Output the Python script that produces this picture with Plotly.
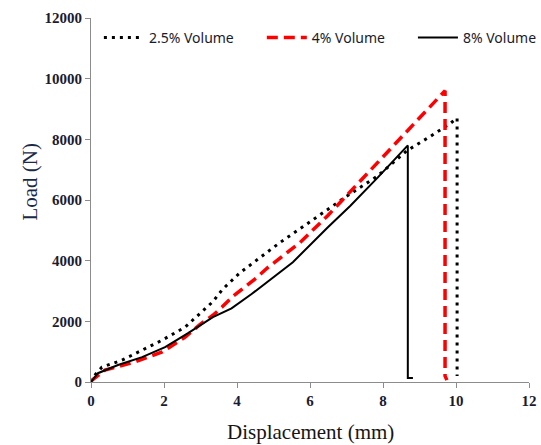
import plotly.graph_objects as go

# 2.5% Volume (dotted black)
x_25 = [0, 0.03, 0.3, 0.85, 1.4, 1.95, 2.58, 3.04, 3.34, 3.6, 4.08, 4.63, 5.18, 5.64, 6.19, 6.49, 7.0, 7.84, 8.66, 9.3, 9.84, 10.0, 10.03, 10.03]
y_25 = [0, 130, 490, 720, 1050, 1380, 1810, 2300, 2650, 3050, 3600, 4100, 4600, 4980, 5450, 5690, 6120, 6780, 7630, 8100, 8520, 8680, 8700, 200]

# 4% Volume (dashed red)
x_4 = [0, 0.03, 0.38, 1.2, 1.95, 2.58, 2.99, 3.34, 3.59, 3.89, 4.55, 4.82, 5.73, 6.49, 7.2, 8.0, 8.8, 9.7, 9.7, 9.75]
y_4 = [0, 60, 390, 660, 990, 1480, 1900, 2200, 2470, 2830, 3450, 3750, 4600, 5490, 6400, 7430, 8450, 9600, 200, 60]

# 8% Volume (solid black)
x_8 = [0, 0.19, 0.74, 1.4, 2.03, 2.66, 3.34, 3.85, 4.4, 4.82, 5.53, 6.49, 7.1, 7.84, 8.68, 8.68, 8.82]
y_8 = [0, 290, 560, 820, 1150, 1610, 2140, 2430, 2900, 3290, 3950, 5100, 5800, 6720, 7800, 130, 130]

x_ticks = [0, 2, 4, 6, 8, 10, 12]
y_ticks = [0, 2000, 4000, 6000, 8000, 10000, 12000]

fig = go.Figure()
fig.add_trace(go.Scatter(x=x_25, y=y_25, mode="lines", name="2.5% Volume", legend="legend",
                         line=dict(color="black", width=3, dash="3px,5px")))
fig.add_trace(go.Scatter(x=x_4, y=y_4, mode="lines", name="4% Volume", legend="legend2",
                         line=dict(color="#ff0000", width=3.5, dash="11px,6px")))
fig.add_trace(go.Scatter(x=x_8, y=y_8, mode="lines", name="8% Volume", legend="legend3",
                         line=dict(color="black", width=2)))

tick_font = dict(family="Liberation Serif", size=15, color="#1b1b30")
axis_common = dict(showgrid=False, zeroline=False, showline=True, linecolor="#8c8c8c",
                   linewidth=1.2, ticks="outside", tickcolor="#8c8c8c", ticklen=5,
                   tickfont=tick_font)

legend_common = dict(orientation="h", xanchor="left", y=0.945, yanchor="middle",
                     font=dict(family="Noto Sans", size=14, color="#1a1a2a"),
                     itemwidth=40, bgcolor="rgba(0,0,0,0)")

fig.update_layout(
    width=541, height=445,
    margin=dict(l=91, r=12, t=18, b=63, autoexpand=False),
    paper_bgcolor="white", plot_bgcolor="white",
    showlegend=True,
    legend=dict(x=0.018, **legend_common),
    legend2=dict(x=0.390, **legend_common),
    legend3=dict(x=0.735, **legend_common),
    xaxis=dict(range=[0, 12], tickvals=x_ticks, ticktext=[f"<b>{v}</b>" for v in x_ticks], **axis_common),
    yaxis=dict(range=[0, 12000], tickvals=y_ticks, ticktext=[f"<b>{v}</b>" for v in y_ticks], **axis_common),
    annotations=[
        dict(text="Displacement (mm)", xref="paper", yref="paper", x=0.5, y=-0.138,
             xanchor="center", yanchor="middle", showarrow=False,
             font=dict(family="Liberation Serif", size=21, color="#151515")),
        dict(text="Load (N)", xref="paper", yref="paper", x=-0.139, y=0.551,
             xanchor="center", yanchor="middle", showarrow=False, textangle=-90,
             font=dict(family="Liberation Serif", size=21, color="#1c2a48")),
    ],
)

# remove the browser's default 8px body margin so the figure fills the window exactly
fig.write_html("out.html", config={"displayModeBar": False},
               post_script="document.body.style.margin='0px';")
